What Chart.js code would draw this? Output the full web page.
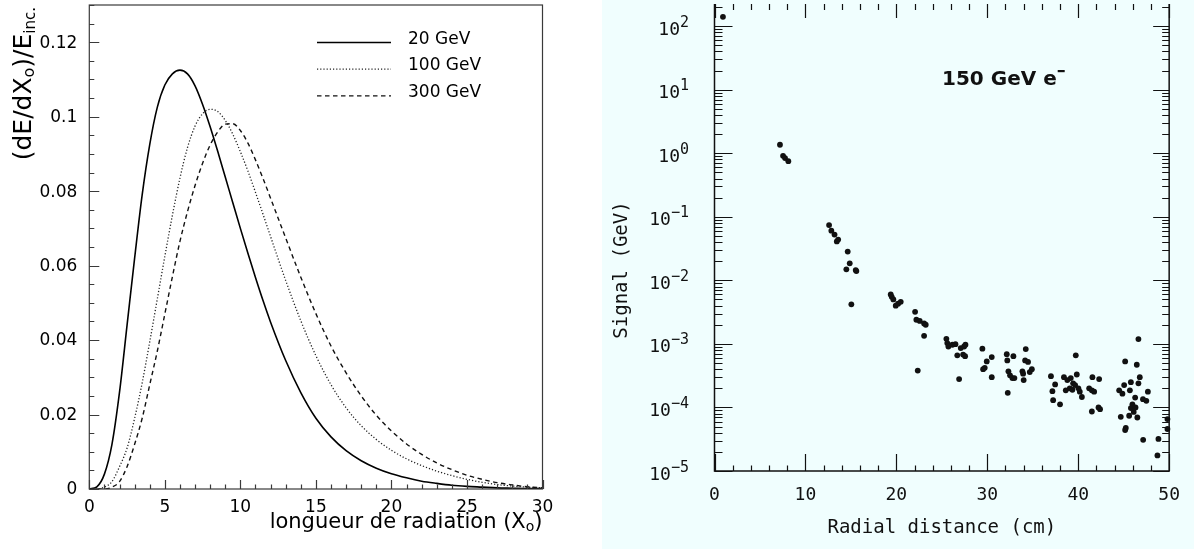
<!DOCTYPE html>
<html>
<head>
<meta charset="utf-8">
<script src="https://cdn.jsdelivr.net/npm/chart.js@4.4.0/dist/chart.umd.min.js"></script>
<style>
  html, body { margin: 0; padding: 0; background: #fff; overflow: hidden; }
  #wrap { position: relative; width: 1194px; height: 549px; }
  #left { position: absolute; left: 0; top: 0; width: 602px; height: 549px; background: #fff; }
  #right { position: absolute; left: 602px; top: 0; width: 592px; height: 549px; background: #f0fefe; }
</style>
</head>
<body>
<div id="wrap">
  <div id="left"><canvas id="profile"></canvas></div>
  <div id="right"><canvas id="radial"></canvas></div>
</div>
<script>
// left panel: longitudinal profiles, depth in X0
const depth = [0, 0.5, 1, 1.5, 2, 2.5, 3, 3.5, 4, 4.5, 5, 5.5, 6, 6.5, 7, 7.5, 8, 8.5, 9, 9.5, 10, 10.5, 11, 11.5, 12,
  13, 14, 15, 16, 17, 18, 19, 20, 21, 22, 23, 24, 25, 26, 27, 28, 29, 30];
const e20 = [0, 0.0006, 0.004, 0.012, 0.026, 0.044, 0.062, 0.079, 0.0925, 0.1025, 0.1085, 0.1115, 0.1125, 0.1115, 0.1083,
  0.1033, 0.0973, 0.0907, 0.0838, 0.0769, 0.0700, 0.0633, 0.0568, 0.0506, 0.0448, 0.0345, 0.0259, 0.0190, 0.0140, 0.0103,
  0.0076, 0.0056, 0.0041, 0.0030, 0.0021, 0.0015, 0.0010, 0.0007, 0.0005, 0.0003, 0.0002, 0.0001, 0.0001];
const e100 = [0, 0, 0.0005, 0.002, 0.006, 0.011, 0.019, 0.0285, 0.0395, 0.051, 0.0625, 0.0735, 0.0835, 0.0917, 0.0975,
  0.1008, 0.1020, 0.1014, 0.0990, 0.0953, 0.0906, 0.0854, 0.0797, 0.0738, 0.0678, 0.0560, 0.0452, 0.0358, 0.0280, 0.0218,
  0.0170, 0.0133, 0.0104, 0.0081, 0.0063, 0.0048, 0.0036, 0.0026, 0.0018, 0.0012, 0.0008, 0.0005, 0.0003];
const e300 = [0, 0, 0, 0.0005, 0.002, 0.006, 0.012, 0.019, 0.028, 0.037, 0.047, 0.057, 0.0665, 0.0745, 0.0815,
  0.0875, 0.0924, 0.0959, 0.0980, 0.0981, 0.0963, 0.0929, 0.0884, 0.0834, 0.0781, 0.0674, 0.0569, 0.0471, 0.0384, 0.0312,
  0.0250, 0.0198, 0.0156, 0.0121, 0.0093, 0.0070, 0.0052, 0.0037, 0.0026, 0.0017, 0.0011, 0.0006, 0.0003];
const energies = ['20 GeV', '100 GeV', '300 GeV'];
const depthTicks = [0, 5, 10, 15, 20, 25, 30];
const fracTicks = [0, 0.02, 0.04, 0.06, 0.08, 0.1, 0.12];

// right panel: lateral profile, 150 GeV electrons
const radial = [0.93, 7.2, 7.54, 7.76, 8.12, 12.6, 12.85, 13.2, 13.45, 13.6, 14.65, 14.87, 14.5, 15.53, 15.6, 15.05,
  19.38, 19.49, 19.67, 19.93, 20.19, 20.48, 22.06, 22.2, 22.57, 23.05, 23.23, 23.05, 22.35,
  25.5, 25.6, 25.72, 26.16, 26.5, 26.7, 26.9, 27.08, 27.45, 27.6, 27.34, 27.56,
  29.46, 29.94, 29.72, 29.54, 30.49, 30.49, 32.14, 32.2, 32.87, 32.32, 32.5, 32.76, 32.25, 32.98,
  34.23, 34.16, 34.48, 33.86, 33.94, 34.0, 34.9, 34.67,
  37.0, 37.46, 37.16, 37.24, 38.0, 39.73, 38.43, 38.8, 39.18, 39.44, 39.66, 39.84, 38.63, 39.07, 39.36,
  40.02, 40.17, 40.4, 41.56, 42.3, 41.2, 41.5, 41.75, 41.5, 42.23, 42.4,
  45.16, 46.44, 46.62, 44.5, 44.86, 45.05, 45.79, 46.62, 46.77, 45.68, 46.26, 45.96, 45.79, 45.6, 44.68,
  46.5, 45.23, 45.16, 46.1, 46.3, 47.12, 47.49, 47.66, 47.14, 48.82, 48.71, 49.81, 49.81];
const signal = [140, 1.36, 0.91, 0.84, 0.75, 0.074, 0.0605, 0.0525, 0.041, 0.0438, 0.0284, 0.0185, 0.0149, 0.0145, 0.014, 0.0042,
  0.006, 0.0055, 0.005, 0.0040, 0.0043, 0.0046, 0.0032, 0.0024, 0.0023, 0.0021, 0.0020, 0.00134, 0.00038,
  0.0012, 0.00103, 0.00091, 0.00097, 0.00099, 0.00066, 0.00028, 0.00086, 0.00091, 0.00097, 0.00068, 0.00064,
  0.00084, 0.00053, 0.00042, 0.00040, 0.00062, 0.0003, 0.00069, 0.00055, 0.00064, 0.00037, 0.00032, 0.00029, 0.00017, 0.00029,
  0.00083, 0.00055, 0.00052, 0.00037, 0.00034, 0.00027, 0.0004, 0.00036,
  0.00031, 0.00023, 0.00018, 0.00013, 0.000112, 0.00066, 0.0003, 0.00027, 0.00029, 0.00024, 0.000225, 0.00033, 0.000186, 0.0002, 0.00019,
  0.0002, 0.000177, 0.000146, 0.0003, 0.00028, 0.0002, 0.000186, 0.000177, 0.0000863, 0.0001, 0.000094,
  0.00053, 0.00047, 0.00119, 0.000186, 0.000165, 0.000225, 0.00025, 0.00024, 0.0003, 0.000186, 0.000143, 0.000112, 0.0000976, 0.000074, 0.0000713,
  0.0000695, 0.0000475, 0.0000442, 0.000085, 0.0001, 0.000135, 0.000127, 0.000177, 0.0000309, 0.000032, 0.0000176, 0.0000656, 0.0000458];
const radialTicks = [0, 10, 20, 30, 40, 50];
const decades = [-5, -4, -3, -2, -1, 0, 1, 2];

const sans = 'DejaVu Sans';
const mono = 'DejaVu Sans Mono';

// draws a run of text pieces (size, raise) starting at x
function richText(ctx, parts, x, y, family, weight) {
  let cx = x;
  parts.forEach(p => {
    ctx.font = (weight || 'normal') + ' ' + p.size + 'px "' + family + '"';
    ctx.fillText(p.t, cx, y - (p.up || 0));
    cx += ctx.measureText(p.t).width;
  });
}
function richWidth(ctx, parts, family, weight) {
  let w = 0;
  parts.forEach(p => {
    ctx.font = (weight || 'normal') + ' ' + p.size + 'px "' + family + '"';
    w += ctx.measureText(p.t).width;
  });
  return w;
}

const profileFrame = {
  id: 'profileFrame',
  afterDraw(chart) {
    const { ctx, chartArea: a, scales: { x, y } } = chart;
    ctx.save();
    ctx.strokeStyle = '#3a3a3a';
    ctx.lineWidth = 1.2;
    ctx.strokeRect(a.left, a.top, a.right - a.left, a.bottom - a.top);
    ctx.beginPath();
    for (let v = 0; v <= 30; v++) {
      const px = Math.round(x.getPixelForValue(v)) + 0.5;
      ctx.moveTo(px, a.bottom);
      ctx.lineTo(px, a.bottom - (v % 5 === 0 ? 9 : 4.5));
    }
    for (let i = 0; i <= 26; i++) {
      const py = Math.round(y.getPixelForValue(i * 0.005)) + 0.5;
      ctx.moveTo(a.left, py);
      ctx.lineTo(a.left + (i % 4 === 0 ? 10 : 5), py);
    }
    ctx.stroke();

    // y tick labels
    ctx.fillStyle = '#000';
    ctx.font = '17px "' + sans + '"';
    ctx.textAlign = 'right';
    ctx.textBaseline = 'middle';
    fracTicks.forEach(v => ctx.fillText(String(v), a.left - 12, y.getPixelForValue(v) + 1));

    // legend
    chart.data.datasets.forEach((ds, i) => {
      const ly = 42.5 + i * 26.7;
      ctx.strokeStyle = ds.borderColor;
      ctx.lineWidth = ds.borderWidth;
      ctx.setLineDash(ds.borderDash || []);
      ctx.beginPath();
      ctx.moveTo(317, ly);
      ctx.lineTo(391, ly);
      ctx.stroke();
      ctx.setLineDash([]);
      ctx.font = '17px "' + sans + '"';
      ctx.textAlign = 'left';
      ctx.textBaseline = 'alphabetic';
      ctx.fillText(ds.label, 408, ly + 1);
    });

    // axis titles
    ctx.textAlign = 'left';
    ctx.textBaseline = 'alphabetic';
    const xt = [{ t: 'longueur de radiation (X', size: 21 }, { t: 'o', size: 14, up: -3 }, { t: ')', size: 21 }];
    richText(ctx, xt, a.right - richWidth(ctx, xt, sans), 528, sans);

    const yt = [{ t: '(dE/dX', size: 25 }, { t: 'o', size: 16, up: -3 }, { t: ')/E', size: 25 }, { t: 'inc.', size: 15, up: -4 }];
    const w = richWidth(ctx, yt, sans);
    ctx.translate(31, 0);
    ctx.rotate(-Math.PI / 2);
    richText(ctx, yt, -(7 + w), 0, sans);
    ctx.restore();
  }
};

new Chart(document.getElementById('profile'), {
  type: 'line',
  data: {
    datasets: [
      { label: energies[0], data: depth.map((t, i) => ({ x: t, y: e20[i] })), borderColor: '#000', borderWidth: 1.6 },
      { label: energies[1], data: depth.map((t, i) => ({ x: t, y: e100[i] })), borderColor: '#222', borderWidth: 1.3, borderDash: [1.2, 2] },
      { label: energies[2], data: depth.map((t, i) => ({ x: t, y: e300[i] })), borderColor: '#111', borderWidth: 1.4, borderDash: [4.5, 3.5] }
    ]
  },
  options: {
    animation: false,
    responsive: true,
    maintainAspectRatio: false,
    layout: { padding: { top: 5, right: 59.5, left: 0, bottom: 0 } },
    elements: { point: { radius: 0 }, line: { cubicInterpolationMode: 'monotone', fill: false } },
    plugins: { legend: { display: false }, tooltip: { enabled: false } },
    scales: {
      x: {
        type: 'linear', min: 0, max: 30,
        grid: { display: false, drawTicks: false }, border: { display: false },
        afterBuildTicks: s => { s.ticks = depthTicks.map(v => ({ value: v })); },
        afterFit: s => { s.height = 60; },
        ticks: { padding: 8, color: '#000', font: { family: sans, size: 17 }, maxRotation: 0, autoSkip: false }
      },
      y: {
        type: 'linear', min: 0, max: 0.13,
        grid: { display: false, drawTicks: false }, border: { display: false },
        afterFit: s => { s.width = 89.3; },
        ticks: { display: false }
      }
    }
  },
  plugins: [profileFrame]
});

const radialFrame = {
  id: 'radialFrame',
  afterDraw(chart) {
    const { ctx, chartArea: a, scales: { x, y } } = chart;
    ctx.save();
    ctx.strokeStyle = '#111';
    ctx.lineWidth = 1.5;
    ctx.beginPath();
    ctx.moveTo(a.left, a.top);
    ctx.lineTo(a.left, a.bottom);
    ctx.lineTo(a.right, a.bottom);
    ctx.lineTo(a.right, a.top);
    ctx.stroke();

    ctx.lineWidth = 1.2;
    ctx.beginPath();
    for (let v = 0; v <= 50; v += 2) {
      const px = Math.round(x.getPixelForValue(v)) + 0.5;
      const major = v % 10 === 0;
      ctx.moveTo(px, a.bottom);
      ctx.lineTo(px, a.bottom - (major ? 17 : 5.5));
      ctx.moveTo(px, a.top);
      ctx.lineTo(px, a.top + (major ? 14 : 6));
    }
    decades.forEach(n => {
      for (let k = 1; k <= 9; k++) {
        const v = k * Math.pow(10, n);
        if (v > y.max) continue;
        const py = Math.round(y.getPixelForValue(v)) + 0.5;
        ctx.moveTo(a.left, py);
        ctx.lineTo(a.left + (k === 1 ? 18 : 8), py);
        ctx.moveTo(a.right, py);
        ctx.lineTo(a.right - (k === 1 ? 16 : 7), py);
      }
    });
    ctx.stroke();

    // decade labels 10^n
    ctx.fillStyle = '#111';
    ctx.textBaseline = 'alphabetic';
    ctx.textAlign = 'left';
    decades.forEach(n => {
      const py = y.getPixelForValue(Math.pow(10, n));
      const exp = n < 0 ? '\u2212' + (-n) : String(n);
      const parts = [{ t: '10', size: 18 }, { t: exp, size: 15, up: 8 }];
      const w = richWidth(ctx, parts, mono);
      richText(ctx, parts, 87 - w, py + 8.5, mono);
    });

    // titles
    ctx.font = '19px "' + mono + '"';
    ctx.textAlign = 'center';
    ctx.fillText('Radial distance (cm)', (a.left + a.right) / 2, 533);
    ctx.save();
    ctx.translate(25, 270);
    ctx.rotate(-Math.PI / 2);
    ctx.fillText('Signal (GeV)', 0, 0);
    ctx.restore();

    ctx.textAlign = 'left';
    ctx.font = 'bold 20px "' + sans + '"';
    const lbl = '150 GeV e';
    ctx.fillText(lbl, 340, 85);
    const lw = ctx.measureText(lbl).width;
    ctx.fillRect(340 + lw + 1, 70, 7, 2.2);
    ctx.restore();
  }
};

new Chart(document.getElementById('radial'), {
  type: 'scatter',
  data: {
    datasets: [{
      label: '150 GeV e-',
      data: radial.map((r, i) => ({ x: r, y: signal[i] })),
      pointRadius: 2.9,
      pointBackgroundColor: '#111',
      pointBorderWidth: 0,
      clip: false
    }]
  },
  options: {
    animation: false,
    responsive: true,
    maintainAspectRatio: false,
    layout: { padding: { top: 0, right: 24, left: 0, bottom: 0 } },
    plugins: { legend: { display: false }, tooltip: { enabled: false } },
    scales: {
      x: {
        type: 'linear', min: 0, max: 50,
        grid: { display: false, drawTicks: false }, border: { display: false },
        afterBuildTicks: s => { s.ticks = radialTicks.map(v => ({ value: v })); },
        afterFit: s => { s.height = 78; },
        ticks: { padding: 14, color: '#111', font: { family: mono, size: 18 }, maxRotation: 0, autoSkip: false }
      },
      y: {
        type: 'logarithmic', min: 1e-5, max: 223,
        grid: { display: false, drawTicks: false }, border: { display: false },
        afterFit: s => { s.width = 112.5; },
        ticks: { display: false }
      }
    }
  },
  plugins: [radialFrame]
});
</script>
</body>
</html>
